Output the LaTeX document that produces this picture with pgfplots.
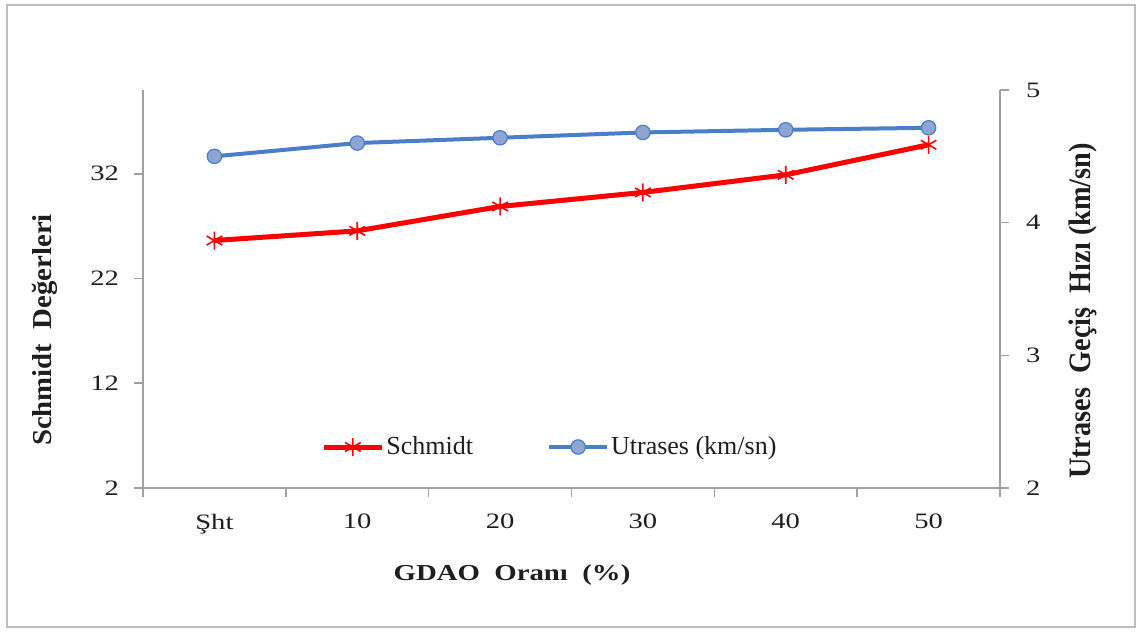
\documentclass[border=0pt]{standalone}
\usepackage{pgfplots}
\pgfplotsset{compat=1.18}
\usepackage{fontspec}
\setmainfont{Liberation Serif}
\definecolor{ublue}{RGB}{74,126,200}
\definecolor{ufill}{RGB}{142,164,210}
\definecolor{axgray}{RGB}{160,160,160}
\definecolor{txt}{RGB}{30,30,30}
\newcommand\sx[1]{\scalebox{1.3}[1]{#1}}
\pgfplotstableread{
x y
0 25.63
1 26.55
2 28.88
3 30.22
4 31.90
5 34.77
}\schmidt
\pgfplotstableread{
x y
0 4.50
1 4.60
2 4.64
3 4.68
4 4.70
5 4.715
}\utrases
\begin{document}
\begin{tikzpicture}
\useasboundingbox (-71.5pt,-71.5pt) rectangle (498pt,244pt);
\draw[axgray!70,line width=0.8pt] (-68pt,-69.5pt) rectangle (496pt,241.5pt);
\begin{axis}[
  scale only axis, width=428.5pt, height=199pt,
  xmin=-0.5, xmax=5.5, ymin=2, ymax=40,
  axis x line*=bottom, axis y line*=left,
  axis line style={axgray, line width=0.8pt},
  xtick={-0.5,0.5,1.5,2.5,3.5,4.5,5.5},
  xticklabels={\sx{Şht},\sx{10},\sx{20},\sx{30},\sx{40},\sx{50},{}},
  xticklabel style={xshift=35.7pt, yshift=-5pt},
  ytick={2,12,22,32},
  yticklabels={\sx{2},\sx{12},\sx{22},\sx{32}},
  yticklabel style={xshift=-4pt},
  tick align=outside, major tick length=4.5pt,
  tick style={axgray, line width=0.8pt},
  every tick label/.append style={font=\fontsize{11}{13}\selectfont, text=txt},
  clip=false,
]
\addplot[red, line width=2.5pt, mark=asterisk, mark size=4.5pt, mark options={line width=0.8pt, solid}] table[x=x,y=y] {\schmidt};
\end{axis}
\begin{axis}[
  scale only axis, width=428.5pt, height=199pt,
  xmin=-0.5, xmax=5.5, ymin=2, ymax=5,
  axis x line=none, axis y line*=right,
  axis line style={axgray, line width=0.8pt},
  ytick={2,3,4,5},
  yticklabels={\sx{2},\sx{3},\sx{4},\sx{5}},
  yticklabel style={xshift=5pt},
  tick align=outside, major tick length=4.5pt,
  tick style={axgray, line width=0.8pt},
  every tick label/.append style={font=\fontsize{11}{13}\selectfont, text=txt},
  clip=false,
  legend style={draw=none, fill=none, inner sep=0pt, at={(0.2124,0.103)}, anchor=west, xshift=-2pt,
    font=\fontsize{13}{15}\selectfont, text=txt, nodes={inner xsep=1pt},
    /tikz/every even column/.append style={column sep=36pt}},
  legend columns=2,
  legend image code/.code={\draw[#1] (0pt,0pt) -- (29pt,0pt); \draw[#1, only marks] plot coordinates {(14.5pt,0pt)};},
]
\addlegendimage{red, line width=2.5pt, mark=asterisk, mark size=4.5pt, mark options={line width=0.8pt, solid}}
\addlegendentry{Schmidt}
\addplot[ublue, line width=2pt, mark=*, mark size=3.6pt, mark options={fill=ufill, draw=ublue, line width=0.6pt}] table[x=x,y=y] {\utrases};
\addlegendentry{Utrases (km/sn)}
\end{axis}
\node[rotate=90, font=\bfseries\fontsize{12}{14}\selectfont, text=txt] at (-49pt,79pt) {\scalebox{1.2}[1.14]{Schmidt\ \ Değerleri}};
\node[rotate=90, font=\bfseries\fontsize{12}{14}\selectfont, text=txt] at (470pt,88.5pt) {\scalebox{1.18}[1.3]{Utrases\ \ Geçiş\ \ Hızı (km/sn)}};
\node[font=\bfseries\fontsize{12}{14}\selectfont, text=txt] at (184.5pt,-43.5pt) {\scalebox{1.2}[0.95]{GDAO\ \ Oranı\ \ (\%)}};
\end{tikzpicture}
\end{document}
